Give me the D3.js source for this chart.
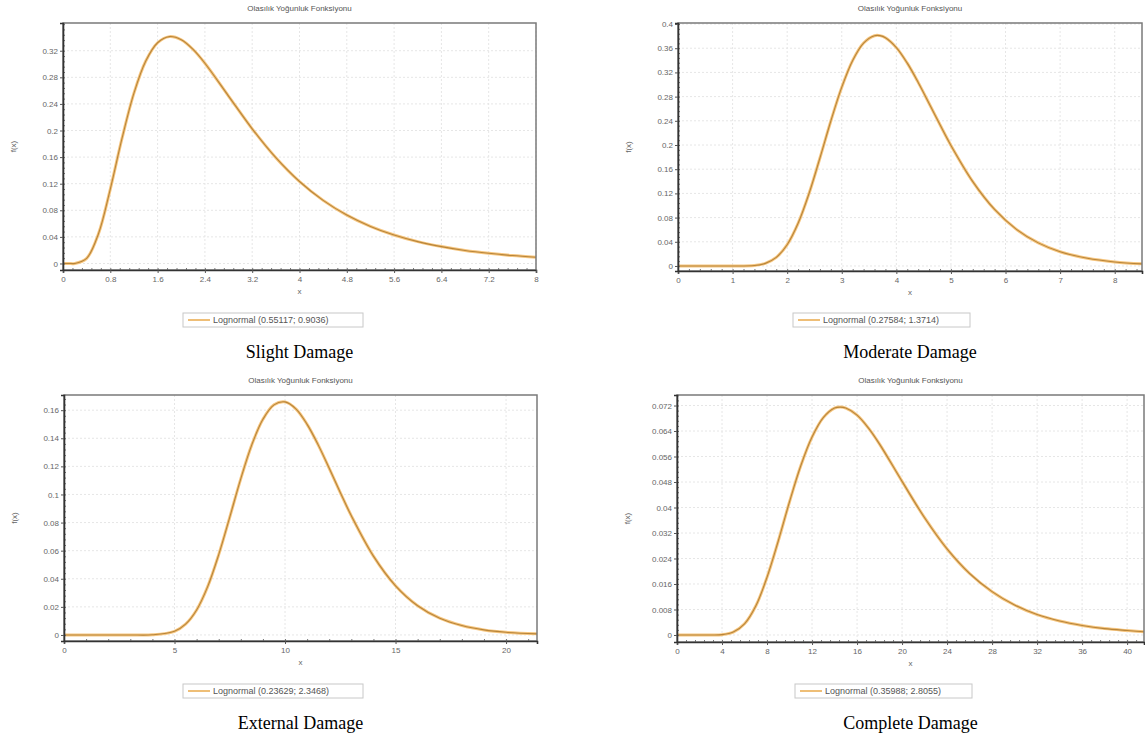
<!DOCTYPE html>
<meta charset="utf-8">
<script src="https://cdn.jsdelivr.net/npm/d3@7"></script>
<style>
body { margin: 0; background: #fff; }
svg { display: block; }
</style>
<svg id="chart" width="1145" height="740"></svg>
<script>
// Density values (x, f(x)).
var slightX = [0, 0.1, 0.2, 0.4, 0.6, 0.8, 1.0, 1.2, 1.4, 1.6, 1.8, 2.0, 2.2, 2.4, 2.8, 3.2, 3.6, 4.0, 4.4, 4.8, 5.2, 5.6, 6.0, 6.4, 6.8, 7.2, 7.6, 8.0];
var slightY = [0, 0, 0.0001, 0.0078, 0.0448, 0.1120, 0.1888, 0.2562, 0.3045, 0.3320, 0.3412, 0.3365, 0.3219, 0.3012, 0.2518, 0.2025, 0.1591, 0.1233, 0.0949, 0.0728, 0.0558, 0.0428, 0.0329, 0.0254, 0.0196, 0.0153, 0.0119, 0.0093];

var moderateX = [0, 0.5, 1.0, 1.4, 1.6, 1.8, 2.0, 2.2, 2.4, 2.6, 2.8, 3.0, 3.2, 3.4, 3.6, 3.7, 3.8, 4.0, 4.2, 4.4, 4.6, 4.8, 5.0, 5.4, 5.8, 6.2, 6.6, 7.0, 7.5, 8.0, 8.5];
var moderateY = [0, 0, 0, 0.0009, 0.0043, 0.0142, 0.0352, 0.0705, 0.1197, 0.1785, 0.2397, 0.2956, 0.3399, 0.3686, 0.3807, 0.3808, 0.3773, 0.3610, 0.3353, 0.3035, 0.2687, 0.2334, 0.1993, 0.1395, 0.0934, 0.0605, 0.0382, 0.0236, 0.0127, 0.0067, 0.0035];

var externalX = [0, 1, 2, 3, 4, 5, 5.5, 6, 6.5, 7, 7.5, 8, 8.5, 9, 9.5, 10, 10.5, 11, 11.5, 12, 12.5, 13, 14, 15, 16, 17, 18, 19, 20, 21.4];
var externalY = [0, 0, 0, 0, 0.0001, 0.0026, 0.0077, 0.0178, 0.0344, 0.0572, 0.0839, 0.1113, 0.1355, 0.1535, 0.1638, 0.1659, 0.1608, 0.1499, 0.1353, 0.1186, 0.1014, 0.0848, 0.0561, 0.0350, 0.0208, 0.0119, 0.0067, 0.0036, 0.0019, 0.0008];

var completeX = [0, 1.5, 3, 4, 5, 6, 7, 8, 9, 10, 11, 12, 13, 14, 14.5, 15, 16, 17, 18, 20, 22, 24, 26, 28, 30, 32, 34, 36, 38, 40, 42];
var completeY = [0, 0, 0, 0.0001, 0.0009, 0.0035, 0.0091, 0.0181, 0.0295, 0.0418, 0.0531, 0.0621, 0.0682, 0.0712, 0.0715, 0.0712, 0.0690, 0.0650, 0.0599, 0.0482, 0.0368, 0.0270, 0.0193, 0.0136, 0.0094, 0.0064, 0.0044, 0.0030, 0.0020, 0.0014, 0.0009];

// Tick values
var slightXTicks = [0, 0.8, 1.6, 2.4, 3.2, 4, 4.8, 5.6, 6.4, 7.2, 8];
var slightYTicks = [0, 0.04, 0.08, 0.12, 0.16, 0.2, 0.24, 0.28, 0.32];
var moderateXTicks = [0, 1, 2, 3, 4, 5, 6, 7, 8];
var moderateYTicks = [0, 0.04, 0.08, 0.12, 0.16, 0.2, 0.24, 0.28, 0.32, 0.36, 0.4];
var externalXTicks = [0, 5, 10, 15, 20];
var externalYTicks = [0, 0.02, 0.04, 0.06, 0.08, 0.1, 0.12, 0.14, 0.16];
var completeXTicks = [0, 4, 8, 12, 16, 20, 24, 28, 32, 36, 40];
var completeYTicks = [0, 0.008, 0.016, 0.024, 0.032, 0.04, 0.048, 0.056, 0.064, 0.072];

var captions = ["Slight Damage", "Moderate Damage", "External Damage", "Complete Damage"];
var legends = ["Lognormal (0.55117; 0.9036)", "Lognormal (0.27584; 1.3714)", "Lognormal (0.23629; 2.3468)", "Lognormal (0.35988; 2.8055)"];
var title = "Olasılık Yoğunluk Fonksiyonu";

var panels = [
    { xs: slightX, ys: slightY, xTicks: slightXTicks, yTicks: slightYTicks, xDom: [0, 8], yDom: [-0.0098, 0.3617],
      left: 63, right: 536, top: 23, bottom: 270, legX: 183, legW: 180, legY: 313, capY: 358 },
    { xs: moderateX, ys: moderateY, xTicks: moderateXTicks, yTicks: moderateYTicks, xDom: [0, 8.5], yDom: [-0.0083, 0.4017],
      left: 678, right: 1142, top: 23, bottom: 271, legX: 793, legW: 177, legY: 313, capY: 358 },
    { xs: externalX, ys: externalY, xTicks: externalXTicks, yTicks: externalYTicks, xDom: [0, 21.4], yDom: [-0.0043, 0.1708],
      left: 64, right: 537, top: 395, bottom: 641, legX: 183, legW: 180, legY: 684, capY: 729 },
    { xs: completeX, ys: completeY, xTicks: completeXTicks, yTicks: completeYTicks, xDom: [0, 41.5], yDom: [-0.0022, 0.0753],
      left: 677, right: 1144, top: 395, bottom: 642, legX: 795, legW: 177, legY: 684, capY: 729 }
];

var svg = d3.select("#chart");
var fmt = d3.format("~g");
var sans = "'Liberation Sans', Arial, sans-serif";

panels.forEach(function(p, i) {
    var x = d3.scaleLinear().domain(p.xDom).range([p.left, p.right]);
    var y = d3.scaleLinear().domain(p.yDom).range([p.bottom, p.top]);
    var g = svg.append("g");
    var cx = (p.left + p.right) / 2;

    g.append("text")
        .attr("x", cx).attr("y", p.top - 12)
        .attr("text-anchor", "middle")
        .style("font-family", sans).style("font-size", "8px").attr("fill", "#555")
        .text(title);

    // faint grid
    g.selectAll(".gx").data(p.xTicks).enter().append("line")
        .attr("x1", x).attr("x2", x).attr("y1", p.top).attr("y2", p.bottom)
        .attr("stroke", "#e6e6e6").attr("stroke-dasharray", "2,2");
    g.selectAll(".gy").data(p.yTicks).enter().append("line")
        .attr("y1", y).attr("y2", y).attr("x1", p.left).attr("x2", p.right)
        .attr("stroke", "#e6e6e6").attr("stroke-dasharray", "2,2");

    // curve
    var clipId = "clip" + i;
    g.append("clipPath").attr("id", clipId).append("rect")
        .attr("x", p.left).attr("y", p.top).attr("width", p.right - p.left).attr("height", p.bottom - p.top);
    var pts = p.xs.map(function(v, k) { return [v, p.ys[k]]; });
    var line = d3.line().x(function(d) { return x(d[0]); }).y(function(d) { return y(d[1]); })
        .curve(d3.curveCatmullRom.alpha(0.5));
    g.append("path").datum(pts).attr("clip-path", "url(#" + clipId + ")")
        .attr("fill", "none").attr("stroke", "#f6c680").attr("stroke-width", 3).attr("d", line);
    g.append("path").datum(pts).attr("clip-path", "url(#" + clipId + ")")
        .attr("fill", "none").attr("stroke", "#b8853a").attr("stroke-width", 1.1).attr("d", line);

    // frame
    g.append("rect")
        .attr("x", p.left).attr("y", p.top).attr("width", p.right - p.left).attr("height", p.bottom - p.top)
        .attr("fill", "none").attr("stroke", "#7a7a7a").attr("stroke-width", 1.5);

    // minor ticks
    var xStep = p.xTicks[1] - p.xTicks[0];
    var yStep = p.yTicks[1] - p.yTicks[0];
    var xMinor = d3.range(p.xDom[0], p.xDom[1], xStep / 5);
    var yMinor = d3.range(0, p.yDom[1], yStep / 5);
    g.append("g").attr("transform", "translate(0," + p.bottom + ")")
        .call(d3.axisBottom(x).tickValues(xMinor).tickSize(-2).tickFormat(""))
        .call(function(a) { a.select(".domain").remove(); a.selectAll("line").attr("stroke", "#777"); });
    g.append("g").attr("transform", "translate(" + p.left + ",0)")
        .call(d3.axisLeft(y).tickValues(yMinor).tickSize(-2).tickFormat(""))
        .call(function(a) { a.select(".domain").remove(); a.selectAll("line").attr("stroke", "#777"); });

    // major axes
    var xa = g.append("g").attr("transform", "translate(0," + p.bottom + ")")
        .call(d3.axisBottom(x).tickValues(p.xTicks).tickSize(3).tickPadding(3).tickFormat(fmt));
    var ya = g.append("g").attr("transform", "translate(" + p.left + ",0)")
        .call(d3.axisLeft(y).tickValues(p.yTicks).tickSize(3).tickPadding(2).tickFormat(fmt));
    [xa, ya].forEach(function(a) {
        a.select(".domain").attr("stroke", "#333").attr("stroke-width", 1.6);
        a.selectAll("line").attr("stroke", "#555");
        a.selectAll("text").style("font-family", sans).style("font-size", "8px").attr("fill", "#666");
    });

    // axis titles
    g.append("text")
        .attr("x", cx).attr("y", p.bottom + 24)
        .attr("text-anchor", "middle")
        .style("font-family", sans).style("font-size", "8px").attr("fill", "#666")
        .text("x");
    g.append("text")
        .attr("transform", "translate(" + (p.left - 47) + "," + ((p.top + p.bottom) / 2) + ") rotate(-90)")
        .attr("text-anchor", "middle")
        .style("font-family", sans).style("font-size", "8px").attr("fill", "#666")
        .text("f(x)");

    // legend
    g.append("rect")
        .attr("x", p.legX).attr("y", p.legY).attr("width", p.legW).attr("height", 14)
        .attr("fill", "#fff").attr("stroke", "#c8c8c8");
    g.append("line")
        .attr("x1", p.legX + 5).attr("x2", p.legX + 27).attr("y1", p.legY + 7).attr("y2", p.legY + 7)
        .attr("stroke", "#e9a94a").attr("stroke-width", 1.5);
    g.append("text")
        .attr("x", p.legX + 30).attr("y", p.legY + 10)
        .style("font-family", sans).style("font-size", "9px").attr("fill", "#555")
        .text(legends[i]);

    // caption
    g.append("text")
        .attr("x", cx).attr("y", p.capY)
        .attr("text-anchor", "middle")
        .style("font-family", "'Liberation Serif', 'Times New Roman', serif").style("font-size", "18px").attr("fill", "#000")
        .text(captions[i]);
});
</script>
